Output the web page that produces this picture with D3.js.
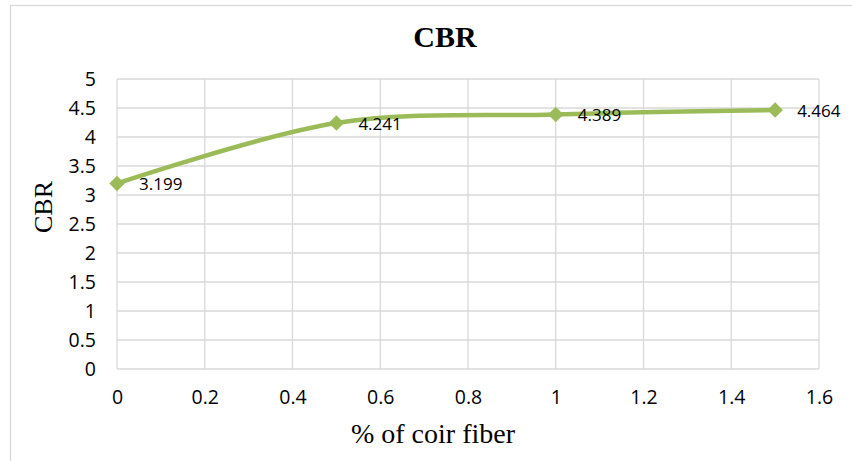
<!DOCTYPE html>
<html>
<head>
<meta charset="utf-8">
<script src="https://cdn.jsdelivr.net/npm/d3@7"></script>
<style>
  body { margin: 0; background: #fff; }
  svg { display: block; }
</style>
</head>
<body>
<svg id="chart" width="852" height="461"></svg>
<script>
const fiberPct = [0, 0.5, 1, 1.5]
const cbrValues = [3.199, 4.241, 4.389, 4.464]
const xTicks = [0, 0.2, 0.4, 0.6, 0.8, 1, 1.2, 1.4, 1.6]
const yTicks = [0, 0.5, 1, 1.5, 2, 2.5, 3, 3.5, 4, 4.5, 5]

const svg = d3.select("#chart")
const plot = { left: 117, top: 79, right: 819, bottom: 369 }
const green = "#9bbb59"
const grid = "#d9d9d9"
const tickFont = "'Open Sans', sans-serif"
const serif = "'Liberation Serif', 'Times New Roman', serif"

// outer chart frame (runs off the right and bottom edges)
svg.append("rect")
	.attr("x", 10.5).attr("y", 5.5)
	.attr("width", 900).attr("height", 500)
	.attr("fill", "none").attr("stroke", grid).attr("stroke-width", 1.3)

const x = d3.scaleLinear().domain([0, 1.6]).range([plot.left, plot.right])
const y = d3.scaleLinear().domain([0, 5]).range([plot.bottom, plot.top])

// gridlines
svg.append("g")
	.selectAll("line")
	.data(xTicks)
	.enter()
	.append("line")
	.attr("x1", d => x(d)).attr("x2", d => x(d))
	.attr("y1", plot.top).attr("y2", plot.bottom)
	.attr("stroke", grid).attr("stroke-width", 1.3)

svg.append("g")
	.selectAll("line")
	.data(yTicks)
	.enter()
	.append("line")
	.attr("x1", plot.left).attr("x2", plot.right)
	.attr("y1", d => y(d)).attr("y2", d => y(d))
	.attr("stroke", grid).attr("stroke-width", 1.3)

// axes (labels only)
const xAxis = svg.append("g")
	.attr("transform", `translate(0,${plot.bottom + 21})`)
	.call(d3.axisBottom(x).tickValues(xTicks).tickSize(0).tickPadding(0).tickFormat(d3.format("")))
xAxis.select(".domain").remove()
xAxis.selectAll("text")
	.attr("font-family", tickFont).attr("font-size", 19.5).attr("fill", "#000")

const yAxis = svg.append("g")
	.attr("transform", `translate(${plot.left - 21},0)`)
	.call(d3.axisLeft(y).tickValues(yTicks).tickSize(0).tickPadding(0).tickFormat(d3.format("")))
yAxis.select(".domain").remove()
yAxis.selectAll("text")
	.attr("font-family", tickFont).attr("font-size", 19.5).attr("fill", "#000")

// smoothed series line
const pts = fiberPct.map((d, i) => [d, cbrValues[i]])
const line = d3.line()
	.x(d => x(d[0]))
	.y(d => y(d[1]))
	.curve(d3.curveCatmullRom.alpha(0))

svg.append("path")
	.datum(pts)
	.attr("d", line)
	.attr("fill", "none")
	.attr("stroke", green)
	.attr("stroke-width", 4.5)
	.attr("stroke-linejoin", "round")

// diamond markers
svg.append("g")
	.selectAll("path")
	.data(pts)
	.enter()
	.append("path")
	.attr("d", d3.symbol().type(d3.symbolSquare).size(120))
	.attr("transform", d => `translate(${x(d[0])},${y(d[1])}) rotate(45)`)
	.attr("fill", green)

// data labels
svg.append("g")
	.selectAll("text")
	.data(pts)
	.enter()
	.append("text")
	.attr("x", d => x(d[0]) + 22)
	.attr("y", d => y(d[1]))
	.attr("dy", "0.4em")
	.attr("font-family", tickFont)
	.attr("font-size", 17)
	.attr("fill", "#000")
	.text(d => d[1])

// titles
svg.append("text")
	.attr("x", 445).attr("y", 47)
	.attr("text-anchor", "middle")
	.attr("font-family", serif).attr("font-weight", "bold").attr("font-size", 30)
	.text("CBR")

svg.append("text")
	.attr("x", 433).attr("y", 443)
	.attr("text-anchor", "middle")
	.attr("font-family", serif).attr("font-size", 28)
	.text("% of coir fiber")

svg.append("text")
	.attr("transform", "translate(52,207) rotate(-90)")
	.attr("text-anchor", "middle")
	.attr("font-family", serif).attr("font-size", 26)
	.text("CBR")
</script>
</body>
</html>
